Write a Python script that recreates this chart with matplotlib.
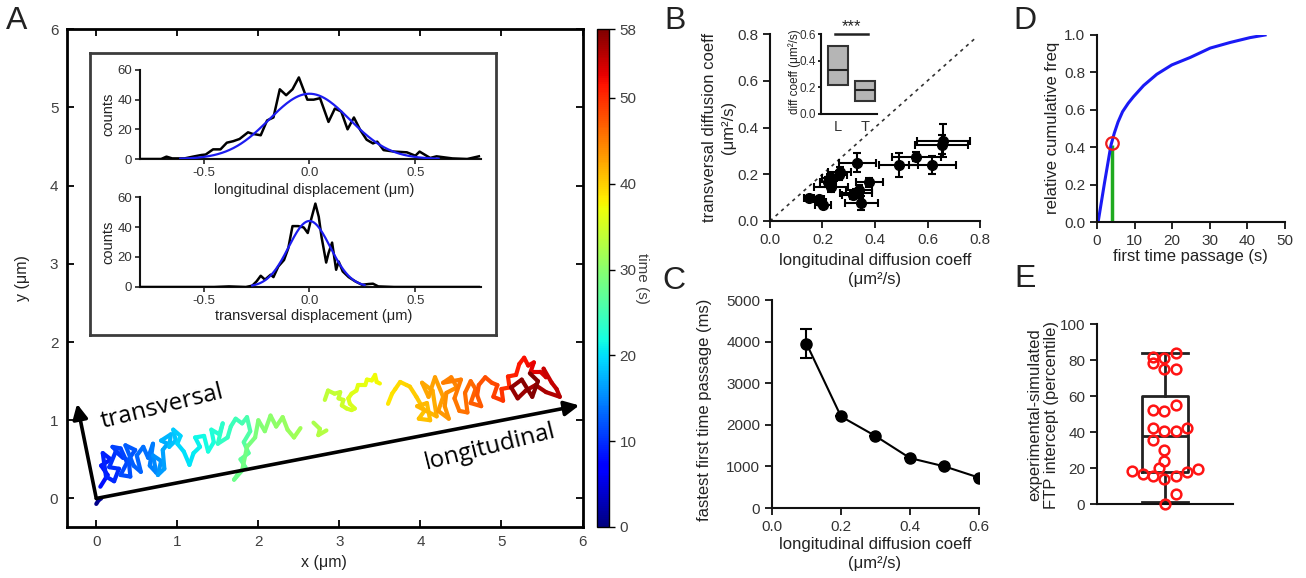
import numpy as np
import matplotlib
matplotlib.use("Agg")
import matplotlib.pyplot as plt
from matplotlib.collections import LineCollection
from matplotlib.colors import Normalize

W, H = 1306, 578
plt.rcParams['font.family'] = ['Liberation Sans', 'DejaVu Sans']
plt.rcParams['axes.unicode_minus'] = False

# ---------------- Panel A: trajectory pieces (time s, x um, y um) ----
# each inner list is one continuous piece of the track (gaps between them)
traj_t = [
    [0, 1, 2],
    [8, 8.25, 8.5, 8.75, 9, 9.25, 9.5, 9.75, 10, 10.25, 10.5, 10.75, 11, 11.25,
     11.5, 11.75, 12, 12.25, 12.5, 12.75, 13, 13.25,
     13.5, 13.85, 14.2, 14.55, 14.9, 15.25, 15.6, 15.95, 16.3, 16.65, 17, 17.35,
     17.7, 18.05, 18.4, 18.75, 19.1, 19.45,
     19.8, 20.15, 20.5, 20.85, 21.2, 21.55, 21.9, 22.25, 22.6, 22.95, 23.3, 23.65,
     24, 24.35, 24.7, 25.05, 25.4,
     25.8, 26.15, 26.5, 26.85, 27.2, 27.55, 27.9, 28.25, 28.6, 28.95, 29.3, 29.65,
     30, 30.35, 30.7, 31.05, 31.4, 31.75],
    [32.2, 32.5, 32.8, 33.1],
    [33.5, 33.7, 33.9, 34.1, 34.3, 34.5, 34.7, 34.9, 35.1, 35.3, 35.5,
     35.7, 35.9, 36.1, 36.3, 36.5, 36.7, 36.9, 37.1, 37.3, 37.5],
    [38.5, 38.8, 39.1, 39.4, 39.7, 40,
     40.3, 40.55, 40.8, 41.05, 41.3, 41.55, 41.8, 42.05, 42.3, 42.55, 42.8, 43.05,
     43.3, 43.55, 43.8, 44.05, 44.3, 44.55, 44.8, 45.05, 45.3, 45.55, 45.8, 46.05,
     46.3, 46.55, 46.8, 47.05, 47.3, 47.55, 47.8, 48.05,
     48.4, 48.8, 49.2, 49.6, 50, 50.4, 50.8, 51.2, 51.6, 52, 52.4, 52.8, 53.2,
     53.6, 54, 54.4, 54.8, 55.2,
     55.5, 56, 56.3, 56.6, 56.9, 57.2, 57.5, 57.8, 58],
]
traj_x = [
    [0.0, 0.03, 0.06],
    [0.05, 0.14, 0.06, 0.18, 0.08, 0.12, 0.22, 0.28, 0.16, 0.24, 0.33, 0.20, 0.30,
     0.38, 0.30, 0.42, 0.40, 0.48, 0.36, 0.46, 0.55, 0.50,
     0.58, 0.64, 0.70, 0.66, 0.74, 0.70, 0.80, 0.76, 0.84, 0.82, 0.88, 0.80, 0.92,
     0.90, 0.98, 0.95, 1.04, 1.00,
     1.08, 1.15, 1.20, 1.28, 1.22, 1.33, 1.38, 1.45, 1.42, 1.52, 1.56, 1.50, 1.62,
     1.66, 1.72, 1.80, 1.86,
     1.90, 1.82, 1.88, 1.78, 1.84, 1.74, 1.70, 1.80, 1.86, 1.96, 2.00, 2.08, 2.15,
     2.22, 2.30, 2.36, 2.44, 2.52],
    [2.68, 2.76, 2.74, 2.84],
    [2.82, 2.86, 2.94, 3.01, 2.99, 3.05, 3.03, 3.09, 3.15, 3.19, 3.13,
     3.11, 3.15, 3.21, 3.23, 3.32, 3.34, 3.40, 3.44, 3.46, 3.50],
    [3.60, 3.65, 3.69, 3.75, 3.83, 3.87,
     3.95, 4.05, 3.98, 4.12, 4.08, 3.96, 4.20, 4.15, 4.02, 4.10, 4.18, 4.28, 4.22,
     4.35, 4.30, 4.32, 4.45, 4.38, 4.28, 4.50, 4.42, 4.48, 4.58, 4.55, 4.62, 4.68,
     4.62, 4.75, 4.70, 4.72, 4.80, 4.88,
     4.95, 4.90, 5.02, 5.00, 5.10, 5.08, 5.18, 5.22, 5.28, 5.33, 5.40, 5.36, 5.48,
     5.55, 5.52, 5.62, 5.68, 5.72,
     5.55, 5.42, 5.30, 5.20, 5.12, 5.25, 5.38, 5.45, 5.35],
]
traj_y = [
    [-0.07, -0.02, 0.0],
    [0.15, 0.30, 0.42, 0.50, 0.58, 0.28, 0.22, 0.38, 0.40, 0.60, 0.52, 0.66, 0.64,
     0.46, 0.30, 0.28, 0.50, 0.62, 0.68, 0.42, 0.34, 0.55,
     0.66, 0.52, 0.70, 0.42, 0.33, 0.55, 0.48, 0.30, 0.38, 0.62, 0.70, 0.74, 0.82,
     0.66, 0.74, 0.88, 0.80, 0.70,
     0.60, 0.43, 0.58, 0.66, 0.78, 0.80, 0.60, 0.72, 0.88, 0.82, 0.96, 0.70, 0.78,
     0.92, 1.02, 0.96, 1.04,
     0.86, 0.72, 0.58, 0.50, 0.40, 0.30, 0.24, 0.36, 0.66, 0.78, 1.00, 0.86, 1.06,
     0.92, 1.04, 0.88, 0.78, 0.90],
    [0.97, 0.89, 0.81, 0.87],
    [1.26, 1.38, 1.34, 1.36, 1.28, 1.26, 1.19, 1.15, 1.13, 1.15, 1.21,
     1.28, 1.34, 1.38, 1.45, 1.45, 1.52, 1.51, 1.58, 1.49, 1.47],
    [1.21, 1.34, 1.40, 1.49, 1.45, 1.43,
     1.30, 1.12, 1.02, 1.00, 1.22, 1.18, 1.05, 1.38, 1.48, 1.30, 1.55, 1.30, 1.12,
     1.02, 1.18, 1.35, 1.42, 1.55, 1.48, 1.52, 1.28, 1.12, 1.10, 1.35, 1.50, 1.40,
     1.22, 1.18, 1.32, 1.45, 1.55, 1.48,
     1.45, 1.30, 1.25, 1.40, 1.42, 1.56, 1.58, 1.72, 1.80, 1.70, 1.74, 1.62, 1.62,
     1.55, 1.66, 1.48, 1.40, 1.30,
     1.36, 1.45, 1.38, 1.28, 1.42, 1.52, 1.30, 1.50, 1.60],
]

# inset histograms
long_x = [-0.80, -0.70, -0.675, -0.648, -0.59, -0.55, -0.51, -0.49, -0.455, -0.42,
          -0.39, -0.36, -0.33, -0.29, -0.27, -0.23, -0.20, -0.17, -0.14, -0.11,
          -0.08, -0.05, -0.01, 0.02, 0.05, 0.09, 0.12, 0.15, 0.18, 0.21,
          0.24, 0.27, 0.30, 0.32, 0.35, 0.40, 0.46, 0.50, 0.52, 0.57,
          0.60, 0.675, 0.745, 0.80]
long_counts = [0, 0, 1.6, 0.4, 0.4, 1.6, 2.7, 3, 6.5, 6.5,
               11, 12, 13.5, 18, 17, 16, 26, 28, 47, 43,
               47, 55, 40, 40, 41, 25, 34, 32, 20, 28,
               19.5, 13, 10.5, 11.7, 6, 5, 4.5, 2.2, 5, 0.7,
               1.8, 0.4, 0, 1.8]
long_fit = dict(amp=44.0, mu=0.0, sigma=0.19, lo=-0.61, hi=0.61)

trans_x = [-0.80, -0.45, -0.38, -0.30, -0.27, -0.25, -0.23, -0.21, -0.183, -0.17,
           -0.147, -0.12, -0.10, -0.08, -0.053, -0.027, -0.008, 0.005, 0.028, 0.044,
           0.057, 0.079, 0.09, 0.107, 0.126, 0.138, 0.157, 0.185, 0.217, 0.248,
           0.28, 0.30, 0.325, 0.40, 0.80]
trans_counts = [0, 0, 0.4, 0, 0.9, 3.7, 7.5, 4.9, 8.2, 6.6,
                13.7, 18, 25.8, 40.6, 40.6, 39.7, 36, 43.5, 55.6, 46.8,
                33.5, 16.3, 22.5, 29.6, 11.5, 17, 10.4, 6.6, 3.7, 1.5,
                2, 2.2, 0.4, 0, 0]
trans_fit = dict(amp=44.0, mu=0.0, sigma=0.098, lo=-0.27, hi=0.26)

# ---------------- Panel B ----------------
b_long = [0.149, 0.187, 0.202, 0.195, 0.227, 0.234, 0.221, 0.265, 0.263, 0.332,
          0.379, 0.328, 0.316, 0.339, 0.347, 0.49, 0.558, 0.619, 0.654, 0.66]
b_trans = [0.097, 0.093, 0.07, 0.08, 0.182, 0.146, 0.167, 0.21, 0.196, 0.25,
           0.165, 0.118, 0.111, 0.133, 0.075, 0.24, 0.275, 0.24, 0.326, 0.343]
b_long_err = [0.02, 0.02, 0.03, 0.02, 0.03, 0.065, 0.03, 0.045, 0.03, 0.07,
              0.05, 0.06, 0.04, 0.05, 0.063, 0.075, 0.095, 0.09, 0.1, 0.1]
b_trans_err = [0.01, 0.01, 0.015, 0.01, 0.02, 0.02, 0.02, 0.02, 0.02, 0.04,
               0.02, 0.02, 0.015, 0.02, 0.03, 0.05, 0.02, 0.04, 0.04, 0.07]
box_labels = ['L', 'T']
box_q1 = [0.22, 0.10]
box_med = [0.33, 0.18]
box_q3 = [0.51, 0.25]

# ---------------- Panel C ----------------
c_D = [0.1, 0.2, 0.3, 0.4, 0.5, 0.6]
c_ftp = [3950, 2200, 1730, 1200, 1000, 730]
c_err = [350, 0, 0, 0, 0, 0]

# ---------------- Panel D ----------------
d_t = [0.3, 2, 3.7, 4.6, 5.6, 6.8, 8.3, 9.7, 12.4, 15.9, 19.9, 24.8, 30.1, 35.4,
       40.7, 44.7]
d_freq = [0, 0.21, 0.41, 0.475, 0.535, 0.59, 0.635, 0.67, 0.73, 0.79, 0.84, 0.88,
          0.93, 0.96, 0.986, 1.0]
d_mark_t, d_mark_f = 4.0, 0.425

# ---------------- Panel E ----------------
e_pos = [0.83, 0.83, 0.99, 1.16, 0.99, 1.16, 0.83, 0.99, 1.16, 0.83, 0.99, 1.16, 1.32,
         0.83, 0.99, 0.99, 0.91, 0.52, 0.68, 0.83, 0.99, 1.16, 1.32, 1.48, 1.16, 1.0]
e_val = [81.9, 78.6, 81, 83.7, 74.9, 75, 52.3, 51.9, 55.1, 42.1, 40.3, 40.8, 42.5,
         35.7, 30.1, 23.7, 20, 18.5, 16.8, 15.3, 14, 15.3, 17.6, 19.4, 5.5, 0.2]
e_stats = dict(med=38, q1=18, q3=60, whislo=1, whishi=84)

# ================= drawing =================
fig = plt.figure(figsize=(W / 100, H / 100), dpi=100)
TXT = '#222222'
TCK = '#333333'


def rect(l, t, r, b):
    return [l / W, 1 - b / H, (r - l) / W, (b - t) / H]


def xlab(ax, s, x, y, **kw):
    ax.set_xlabel(s, color=TXT, **kw)
    ax.xaxis.label.set_verticalalignment('center')
    ax.xaxis.set_label_coords(x / W, 1 - y / H, transform=fig.transFigure)


def ylab(ax, s, x, y, **kw):
    ax.set_ylabel(s, color=TXT, **kw)
    ax.yaxis.label.set_verticalalignment('center')
    ax.yaxis.set_label_coords(x / W, 1 - y / H, transform=fig.transFigure)


def prism(ax, lw=1.5, size=11):
    for s in ['top', 'right']:
        ax.spines[s].set_visible(False)
    for s in ['left', 'bottom']:
        ax.spines[s].set_linewidth(lw)
        ax.spines[s].set_color('#111111')
    ax.tick_params(direction='out', length=5, width=1.3, labelsize=size,
                   labelcolor=TCK, color='#111111')


def letter(s, x, y):
    fig.text(x / W, 1 - y / H, s, fontsize=23, color=TXT, ha='center', va='center')


# ----- Panel A -----
axA = fig.add_axes(rect(66.7, 29.3, 582.5, 527))
cmap = plt.get_cmap('jet')
norm = Normalize(0, 58)
segs, cols = [], []
for ts, xs, ys in zip(traj_t, traj_x, traj_y):
    for i in range(len(ts) - 1):
        segs.append([(xs[i], ys[i]), (xs[i + 1], ys[i + 1])])
        cols.append(0.5 * (ts[i] + ts[i + 1]))
lc = LineCollection(segs, cmap=cmap, norm=norm, linewidths=3.0, capstyle='round',
                    joinstyle='round')
lc.set_array(np.array(cols))
axA.add_collection(lc)
axA.set_xlim(-0.365, 6)
axA.set_ylim(-0.365, 6)
axA.set_xticks(range(7))
axA.set_yticks(range(7))
for s in axA.spines.values():
    s.set_linewidth(2)
axA.tick_params(direction='in', top=True, right=True, length=5, width=1.3,
                labelsize=11, labelcolor='#404040', pad=6)
xlab(axA, 'x (μm)', 324, 563, fontsize=11.5)
ylab(axA, 'y (μm)', 22, 278, fontsize=11.5)
ap = dict(arrowstyle='-|>', lw=2.6, color='black', mutation_scale=22,
          shrinkA=0, shrinkB=0)
axA.annotate('', xy=(-0.237, 1.21), xytext=(0, 0), arrowprops=ap)
axA.annotate('', xy=(5.96, 1.19), xytext=(0, 0), arrowprops=ap)
axA.text(0.82, 1.17, 'transversal', rotation=14, fontsize=17.5, family='Open Sans',
         ha='center', va='center', color='black', rotation_mode='anchor')
axA.text(4.86, 0.66, 'longitudinal', rotation=14, fontsize=17.5, family='Open Sans',
         ha='center', va='center', color='black', rotation_mode='anchor')

# colorbar
cax = fig.add_axes(rect(597, 29.3, 609, 527))
cb = fig.colorbar(lc, cax=cax, ticks=[0, 10, 20, 30, 40, 50, 58])
cb.outline.set_linewidth(1)
cax.tick_params(labelsize=11, labelcolor='#404040', length=4, width=1)
fig.text(642 / W, 1 - 278 / H, 'time (s)', rotation=270, fontsize=11,
         color='#404040', ha='center', va='center')

# inset frame
frame = fig.add_axes(rect(89.6, 53, 496, 335))
frame.set_xticks([])
frame.set_yticks([])
for s in frame.spines.values():
    s.set_linewidth(2)
    s.set_color('#3c3c3c')
frame.set_zorder(2)


def hist_inset(r, xs, cs, fit, xl, xl_y):
    ax = fig.add_axes(rect(*r))
    ax.set_zorder(3)
    ax.patch.set_alpha(0)
    ax.plot(xs, cs, color='black', lw=1.8, zorder=3)
    gx = np.linspace(fit['lo'], fit['hi'], 200)
    ax.plot(gx, fit['amp'] * np.exp(-(gx - fit['mu']) ** 2 / (2 * fit['sigma'] ** 2)),
            color='#1c1cf0', lw=1.6, zorder=4)
    ax.set_xlim(-0.8, 0.81)
    ax.set_ylim(0, 60)
    ax.set_xticks([-0.5, 0, 0.5])
    ax.set_xticklabels(['-0.5', '0.0', '0.5'])
    ax.set_yticks([0, 20, 40, 60])
    prism(ax, lw=1.5, size=9.5)
    ax.tick_params(length=3.5, width=1.1, pad=2)
    ylab(ax, 'counts', 108, (r[1] + r[3]) / 2, fontsize=10.5)
    xlab(ax, xl, 314, xl_y, fontsize=10.5)
    return ax


hist_inset((140, 70, 481, 159), long_x, long_counts, long_fit,
           'longitudinal displacement (μm)', 190)
hist_inset((140, 197, 481, 287), trans_x, trans_counts, trans_fit,
           'transversal displacement (μm)', 316)

# ----- Panel B -----
axB = fig.add_axes(rect(770, 34, 980, 221))
axB.plot([0, 0.78], [0, 0.78], color='#333333', lw=1.2, ls=(0, (2, 2.5)))
axB.errorbar(b_long, b_trans, xerr=b_long_err, yerr=b_trans_err, fmt='o',
             color='black', ms=7, elinewidth=1.5, capsize=3, capthick=1.5)
axB.set_xlim(0, 0.8)
axB.set_ylim(0, 0.8)
axB.set_xticks([0, 0.2, 0.4, 0.6, 0.8])
axB.set_yticks([0, 0.2, 0.4, 0.6, 0.8])
axB.xaxis.set_major_formatter('{x:.1f}')
axB.yaxis.set_major_formatter('{x:.1f}')
prism(axB)
xlab(axB, 'longitudinal diffusion coeff\n(μm²/s)', 875, 270, fontsize=12, linespacing=1.35)
ylab(axB, 'transversal diffusion coeff\n(μm²/s)', 719, 127, fontsize=12, linespacing=1.3)

axBi = fig.add_axes(rect(821, 34.3, 877, 114))
stats = [dict(med=m, q1=a, q3=b, whislo=a, whishi=b, label=l)
         for l, a, m, b in zip(box_labels, box_q1, box_med, box_q3)]
axBi.bxp(stats, positions=[1, 2], widths=0.74, patch_artist=True, showcaps=False,
         showfliers=False,
         boxprops=dict(facecolor='#b5b5b5', edgecolor='#333333', linewidth=1.5),
         medianprops=dict(color='#222222', linewidth=1.5),
         whiskerprops=dict(linewidth=0))
axBi.set_xlim(0.37, 2.44)
axBi.set_ylim(0, 0.6)
axBi.set_yticks([0, 0.2, 0.4, 0.6])
axBi.yaxis.set_major_formatter('{x:.1f}')
prism(axBi, lw=1.5, size=8.5)
axBi.tick_params(axis='x', length=0, labelsize=10.5, pad=4)
axBi.tick_params(axis='y', length=2.5, pad=1)
axBi.plot([0.9, 2.1], [0.6, 0.6], color='#222222', lw=1.8, clip_on=False)
axBi.text(1.5, 0.655, '***', ha='center', va='center', fontsize=12, color=TXT)
ylab(axBi, 'diff coeff (μm²/s)', 795, 72, fontsize=8.5)

# ----- Panel C -----
axC = fig.add_axes(rect(772, 300, 979, 508))
axC.errorbar(c_D, c_ftp, yerr=c_err, fmt='-o', color='black', ms=8, lw=1.5,
             elinewidth=1.5, capsize=4, capthick=1.5)
axC.set_xlim(0, 0.6)
axC.set_ylim(0, 5000)
axC.set_xticks([0, 0.2, 0.4, 0.6])
axC.xaxis.set_major_formatter('{x:.1f}')
axC.set_yticks([0, 1000, 2000, 3000, 4000, 5000])
prism(axC)
xlab(axC, 'longitudinal diffusion coeff\n(μm²/s)', 875, 554, fontsize=12, linespacing=1.3)
ylab(axC, 'fastest first time passage (ms)', 705, 410, fontsize=12)

# ----- Panel D -----
axD = fig.add_axes(rect(1097, 35, 1285, 222))
axD.plot([d_mark_t, d_mark_t], [0, d_mark_f - 0.015], color='#1faa1f', lw=2.5,
         solid_capstyle='butt')
axD.plot(d_t, d_freq, color='#1a1af5', lw=2.2)
axD.plot([d_mark_t], [d_mark_f], 'o', mfc='none', mec='#ee1c1c', ms=9, mew=1.6)
axD.set_xlim(0, 50)
axD.set_ylim(0, 1.0)
axD.set_xticks([0, 10, 20, 30, 40, 50])
axD.set_yticks([0, 0.2, 0.4, 0.6, 0.8, 1.0])
axD.yaxis.set_major_formatter('{x:.1f}')
prism(axD)
xlab(axD, 'first time passage (s)', 1190, 257, fontsize=12)
ylab(axD, 'relative cumulative freq', 1053, 128, fontsize=12)

# ----- Panel E -----
axE = fig.add_axes(rect(1097, 324, 1233, 504))
axE.bxp([e_stats], positions=[1], widths=0.68, capwidths=[0.68], showfliers=False,
        boxprops=dict(color='#222222', linewidth=2),
        whiskerprops=dict(color='#222222', linewidth=2),
        capprops=dict(color='#222222', linewidth=2),
        medianprops=dict(color='#222222', linewidth=2), manage_ticks=False)
axE.plot(e_pos, e_val, 'o', mfc='none', mec='#ff1414', ms=7, mew=1.8, ls='none',
         clip_on=False, zorder=4)
axE.set_xlim(0, 2)
axE.set_ylim(0, 100)
axE.set_yticks([0, 20, 40, 60, 80, 100])
axE.set_xticks([])
prism(axE)
ylab(axE, 'experimental-simulated\nFTP intercept (percentile)', 1043, 415,
     fontsize=12, linespacing=1.2)

letter('A', 17, 21)
letter('B', 675, 21)
letter('C', 674, 281)
letter('D', 1025, 21)
letter('E', 1025, 279)

fig.savefig('out.png', dpi=100)
